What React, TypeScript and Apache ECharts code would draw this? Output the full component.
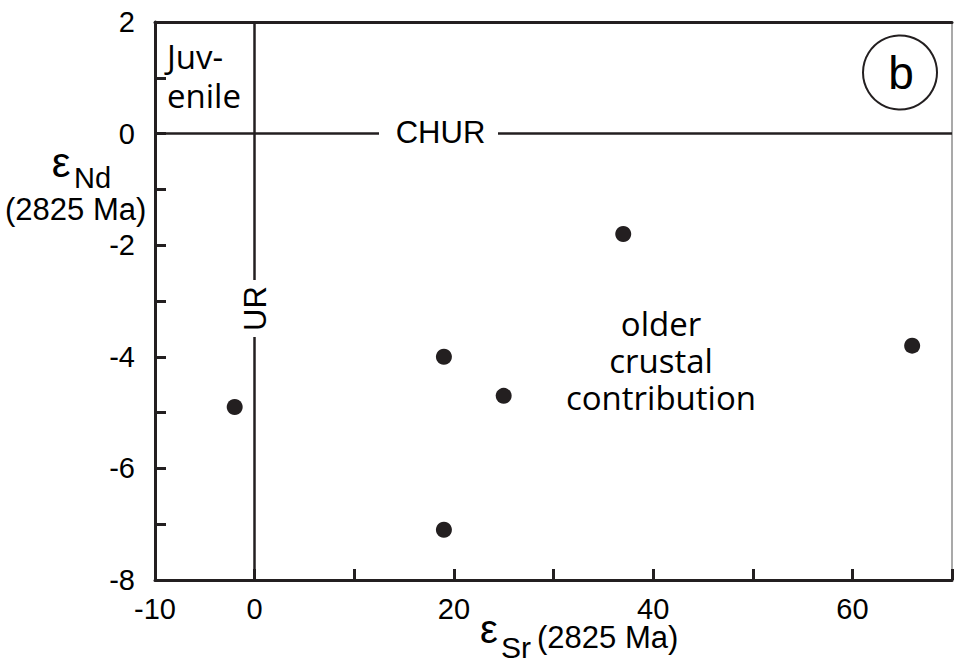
import React, { useEffect, useRef } from "react";
import * as echarts from "echarts";

// ---- data ----
const xLabeledTicks = [-10, 0, 20, 40, 60];
const yLabeledTicks = [2, 0, -2, -4, -6, -8];
const xRange = [-10, 70];
const yRange = [-8, 2];
const epsSr = [-2, 19, 19, 25, 37, 66];
const epsNd = [-4.9, -4.0, -7.1, -4.7, -1.8, -3.8];
const urValue = 0; // Uniform Reservoir (eSr = 0)
const churValue = 0; // CHUR (eNd = 0)

const INK = "#231f20";
const HELV = "'Liberation Sans', Arial, Helvetica, sans-serif";
const MYRIAD = "'Open Sans', 'Noto Sans', sans-serif";

export default function App() {
  const ref = useRef<HTMLDivElement>(null);

  useEffect(() => {
    if (!ref.current) return;
    const chart = echarts.init(ref.current, undefined, { renderer: "svg" });

    const points = epsSr.map((x, i) => [x, epsNd[i]]);

    const option: any = {
      animation: false,
      backgroundColor: "#ffffff",
      grid: { left: 155, top: 22, right: 1, bottom: 82, containLabel: false },
      xAxis: [
        {
          type: "value",
          min: xRange[0],
          max: xRange[1],
          interval: 10,
          position: "bottom",
          axisLine: { show: true, onZero: false, lineStyle: { color: INK, width: 3 } },
          axisTick: { show: true, inside: true, length: 11, lineStyle: { color: INK, width: 3 } },
          axisLabel: {
            color: "#000",
            fontSize: 29,
            fontFamily: HELV,
            margin: 14,
            formatter: (v: number) => (xLabeledTicks.includes(v) ? String(v) : ""),
          },
          splitLine: { show: false },
        },
        {
          type: "value",
          min: xRange[0],
          max: xRange[1],
          position: "top",
          axisLine: { show: true, onZero: false, lineStyle: { color: INK, width: 3 } },
          axisTick: { show: false },
          axisLabel: { show: false },
          splitLine: { show: false },
        },
      ],
      yAxis: [
        {
          type: "value",
          min: yRange[0],
          max: yRange[1],
          interval: 1,
          position: "left",
          axisLine: { show: true, onZero: false, lineStyle: { color: INK, width: 3 } },
          axisTick: { show: true, inside: true, length: 11, lineStyle: { color: INK, width: 3 } },
          axisLabel: {
            color: "#000",
            fontSize: 29,
            fontFamily: HELV,
            margin: 20,
            formatter: (v: number) => (yLabeledTicks.includes(v) ? String(v) : ""),
          },
          splitLine: { show: false },
        },
        {
          type: "value",
          min: yRange[0],
          max: yRange[1],
          position: "right",
          axisLine: { show: true, onZero: false, lineStyle: { color: "#8c8c8c", width: 1.5 } },
          axisTick: { show: false },
          axisLabel: { show: false },
          splitLine: { show: false },
        },
      ],
      series: [
        {
          type: "scatter",
          name: "samples",
          data: points,
          symbol: "circle",
          symbolSize: 16,
          itemStyle: { color: INK, opacity: 1 },
          z: 5,
          markLine: {
            silent: true,
            symbol: "none",
            label: { show: false },
            lineStyle: { color: INK, width: 2.5, type: "solid", opacity: 1 },
            data: [{ xAxis: urValue }, { yAxis: churValue }],
          },
        },
      ],
      graphic: [
        // gaps in reference lines behind labels
        { type: "rect", z: 50, shape: { x: 379, y: 125, width: 119, height: 18 }, style: { fill: "#fff" } },
        { type: "rect", z: 50, shape: { x: 247, y: 280, width: 16, height: 57 }, style: { fill: "#fff" } },
        {
          type: "text",
          z: 60,
          x: 440.5,
          y: 132.5,
          style: { text: "CHUR", fontSize: 31, fontFamily: HELV, fill: "#000", align: "center", verticalAlign: "middle" },
        },
        {
          type: "text",
          z: 60,
          x: 255,
          y: 308.5,
          rotation: Math.PI / 2,
          style: { text: "UR", fontSize: 31, fontFamily: HELV, fill: "#000", align: "center", verticalAlign: "middle" },
        },
        {
          type: "text",
          z: 60,
          x: 167,
          y: 76,
          style: {
            text: "Juv-\nenile",
            fontSize: 33,
            lineHeight: 38.5,
            fontFamily: MYRIAD,
            fill: "#000",
            align: "left",
            verticalAlign: "middle",
          },
        },
        {
          type: "text",
          z: 60,
          x: 661,
          y: 360.5,
          style: {
            text: "older\ncrustal\ncontribution",
            fontSize: 33,
            lineHeight: 36.6,
            fontFamily: MYRIAD,
            fill: "#000",
            align: "center",
            verticalAlign: "middle",
          },
        },
        // panel label
        {
          type: "circle",
          z: 60,
          shape: { cx: 900, cy: 72.5, r: 37 },
          style: { fill: "#fff", stroke: INK, lineWidth: 2 },
        },
        {
          type: "text",
          z: 61,
          x: 901,
          y: 72.5,
          style: { text: "b", fontSize: 46, fontFamily: HELV, fill: "#000", align: "center", verticalAlign: "middle" },
        },
        // y-axis title
        {
          type: "text",
          z: 60,
          x: 61,
          y: 162,
          style: { text: "ε", fontSize: 42, fontFamily: HELV, fill: "#000", align: "center", verticalAlign: "middle" },
        },
        {
          type: "text",
          z: 60,
          x: 74,
          y: 178,
          style: { text: "Nd", fontSize: 29, fontFamily: HELV, fill: "#000", align: "left", verticalAlign: "middle" },
        },
        {
          type: "text",
          z: 60,
          x: 5,
          y: 209,
          style: { text: "(2825 Ma)", fontSize: 31, fontFamily: HELV, fill: "#000", align: "left", verticalAlign: "middle" },
        },
        // x-axis title
        {
          type: "text",
          z: 60,
          x: 489,
          y: 629,
          style: { text: "ε", fontSize: 40, fontFamily: HELV, fill: "#000", align: "center", verticalAlign: "middle" },
        },
        {
          type: "text",
          z: 60,
          x: 501,
          y: 647,
          style: { text: "Sr", fontSize: 30, fontFamily: HELV, fill: "#000", align: "left", verticalAlign: "middle" },
        },
        {
          type: "text",
          z: 60,
          x: 537,
          y: 637.5,
          style: { text: "(2825 Ma)", fontSize: 31, fontFamily: HELV, fill: "#000", align: "left", verticalAlign: "middle" },
        },
      ],
    };

    chart.setOption(option);
    return () => chart.dispose();
  }, []);

  return (
    <div
      ref={ref}
      style={{ position: "fixed", left: 0, top: 0, width: 955, height: 662, background: "#fff" }}
    />
  );
}
